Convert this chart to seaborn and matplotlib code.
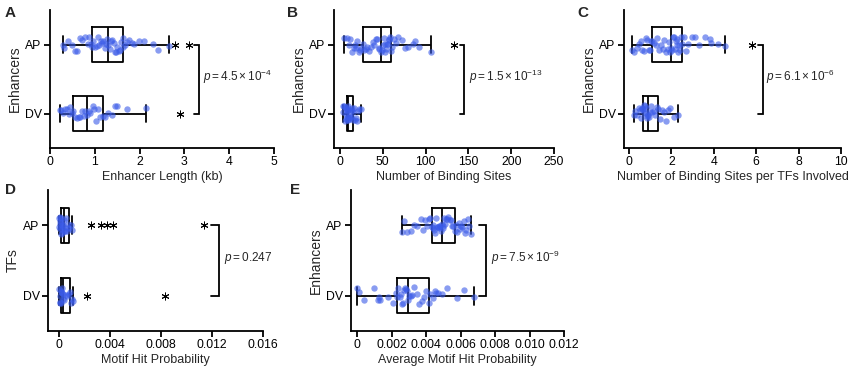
import numpy as np
import pandas as pd
import matplotlib
matplotlib.use("Agg")
import matplotlib.pyplot as plt
import seaborn as sns

np.random.seed(3)

sns.set_style("ticks")
plt.rcParams['font.family'] = ['Liberation Sans', 'DejaVu Sans']
plt.rcParams['mathtext.fontset'] = 'custom'
plt.rcParams['mathtext.rm'] = 'Liberation Sans'
plt.rcParams['mathtext.it'] = 'Liberation Sans:italic'

categories = ["AP", "DV"]

# ---- Panel A: Enhancer length (kb)
a_ap_in = [0.30, 0.32, 0.40, 0.48, 0.55, 0.60, 0.66, 0.72, 0.78, 0.84, 0.88, 0.91, 0.93,
           0.97, 1.00, 1.04, 1.07, 1.10, 1.13, 1.16, 1.19, 1.22, 1.25, 1.28, 1.30,
           1.33, 1.36, 1.39, 1.42, 1.45, 1.48, 1.50, 1.53, 1.56, 1.59, 1.62, 1.64,
           1.68, 1.72, 1.77, 1.82, 1.88, 1.98, 2.10, 2.30, 2.42, 2.66]
a_ap_out = [2.79, 3.11]
a_dv_in = [0.22, 0.25, 0.30, 0.34, 0.38, 0.42, 0.45, 0.48, 0.51,
           0.55, 0.60, 0.64, 0.68, 0.72, 0.75, 0.79, 0.82,
           0.86, 0.90, 0.95, 0.99, 1.03, 1.08, 1.12, 1.18,
           1.22, 1.30, 1.38, 1.45, 1.50, 1.72, 2.15]
a_dv_out = [2.90]

# ---- Panel B: Number of binding sites
b_ap_in = [5, 8, 10, 12, 14, 16, 18, 19, 20, 22, 23, 25, 26.4,
           28, 30, 32, 34, 36, 38, 40, 42, 43, 45, 46, 47.9,
           49, 50, 51, 52, 53, 54, 55, 56, 57, 57.5, 58, 59.2,
           61, 63, 65, 68, 72, 76, 80, 85, 88, 92, 106]
b_ap_out = [133]
b_dv_in = [3.1, 4, 5, 5.5, 6, 6.5, 7, 7.4, 7.8,
           8.1, 8.4, 8.7, 9.0, 9.2, 9.4, 9.6, 9.8,
           10.3, 11, 11.7, 12.4, 13, 13.6, 14.2, 14.8,
           15.5, 16.5, 17.5, 18.5, 19.5, 21, 22.5, 24.2]
b_dv_out = []

# ---- Panel C: Binding sites per TF involved
c_ap_in = [0.16, 0.25, 0.35, 0.45, 0.55, 0.62, 0.70, 0.78, 0.85, 0.92, 0.98, 1.04, 1.10,
           1.18, 1.26, 1.34, 1.42, 1.50, 1.58, 1.66, 1.74, 1.82, 1.88, 1.93, 1.98,
           2.03, 2.08, 2.12, 2.16, 2.20, 2.24, 2.28, 2.32, 2.36, 2.40, 2.45, 2.50,
           2.58, 2.68, 2.80, 2.95, 3.10, 3.30, 3.60, 3.80, 3.85, 4.20, 4.54]
c_ap_out = [5.79]
c_dv_in = [0.24, 0.30, 0.38, 0.45, 0.50, 0.55, 0.59, 0.63, 0.66,
           0.69, 0.72, 0.75, 0.78, 0.81, 0.83, 0.86, 0.88,
           0.92, 0.98, 1.04, 1.10, 1.17, 1.24, 1.31, 1.38,
           1.45, 1.55, 1.65, 1.75, 1.85, 1.95, 2.10, 2.33]
c_dv_out = []

# ---- Panel D: Motif hit probability (TFs)
d_ap_in = [0.00000, 0.00002, 0.00004, 0.00006, 0.00008, 0.00010, 0.00012, 0.00013,
           0.00016, 0.00019, 0.00022, 0.00025, 0.00028, 0.00031, 0.00035,
           0.00040, 0.00046, 0.00052, 0.00058, 0.00064, 0.00072, 0.00080,
           0.00090, 0.00100]
d_ap_out = [0.00246, 0.00332, 0.00376, 0.00424, 0.01137]
d_dv_in = [0.00000, 0.00003, 0.00006, 0.00009, 0.00011, 0.00013,
           0.00017, 0.00021, 0.00024, 0.00027, 0.00030,
           0.00040, 0.00052, 0.00064, 0.00075, 0.00086,
           0.00092, 0.00098, 0.00105]
d_dv_out = [0.00215, 0.00834]

# ---- Panel E: Average motif hit probability
e_ap_in = [0.00259, 0.00275, 0.00290, 0.00310, 0.00330, 0.00350, 0.00370, 0.00385, 0.00395,
           0.00405, 0.00415, 0.00425, 0.00433,
           0.00438, 0.00443, 0.00448, 0.00453, 0.00458, 0.00463, 0.00468, 0.00473, 0.00478,
           0.00483, 0.00487, 0.00491,
           0.00496, 0.00501, 0.00506, 0.00512, 0.00518, 0.00524, 0.00530, 0.00537, 0.00544,
           0.00551, 0.00559, 0.00568,
           0.00575, 0.00582, 0.00589, 0.00596, 0.00603, 0.00610, 0.00618, 0.00626, 0.00634,
           0.00642, 0.00650, 0.00660]
e_ap_out = []
e_dv_in = [0.00000, 0.00010, 0.00040, 0.00100, 0.00120, 0.00130, 0.00135, 0.00180, 0.00210,
           0.00225, 0.00231,
           0.00240, 0.00248, 0.00255, 0.00262, 0.00268, 0.00274, 0.00280, 0.00284, 0.00288,
           0.00293,
           0.00300, 0.00310, 0.00320, 0.00330, 0.00345, 0.00360, 0.00375, 0.00390, 0.00402,
           0.00415,
           0.00425, 0.00440, 0.00450, 0.00460, 0.00470, 0.00490, 0.00520, 0.00580, 0.00620,
           0.00680]
e_dv_out = []

# tick labels
a_ticks = [0, 1, 2, 3, 4, 5]
b_ticks = [0, 50, 100, 150, 200, 250]
c_ticks = [0, 2, 4, 6, 8, 10]
d_ticks = [0, 0.004, 0.008, 0.012, 0.016]
d_ticklabels = ["0", "0.004", "0.008", "0.012", "0.016"]
e_ticks = [0, 0.002, 0.004, 0.006, 0.008, 0.010, 0.012]
e_ticklabels = ["0", "0.002", "0.004", "0.006", "0.008", "0.010", "0.012"]

p_texts = [r"$p = 4.5\times10^{-4}$", r"$p = 1.5\times10^{-13}$", r"$p = 6.1\times10^{-6}$",
           r"$p = 0.247$", r"$p = 7.5\times10^{-9}$"]

W, H = 856, 368
fig = plt.figure(figsize=(W / 100, H / 100), dpi=100)


def add_ax(x0, y0, x1, y1):
    return fig.add_axes([x0 / W, 1 - y1 / H, (x1 - x0) / W, (y1 - y0) / H])


panels = [
    dict(ax=add_ax(50, 10, 274, 148), ap_in=a_ap_in, ap_out=a_ap_out, dv_in=a_dv_in, dv_out=a_dv_out,
         xlim=(0, 5), ticks=a_ticks, ticklabels=[str(t) for t in a_ticks],
         xlabel="Enhancer Length (kb)", ylabel="Enhancers", br=(3.22, 3.33, 3.41), letter="A",
         lpos=(5, 13)),
    dict(ax=add_ax(334, 10, 554, 148), ap_in=b_ap_in, ap_out=b_ap_out, dv_in=b_dv_in, dv_out=b_dv_out,
         xlim=(-7, 250), ticks=b_ticks, ticklabels=[str(t) for t in b_ticks],
         xlabel="Number of Binding Sites", ylabel="Enhancers", br=(140, 145, 151), letter="B",
         lpos=(287, 13)),
    dict(ax=add_ax(624, 10, 841, 148), ap_in=c_ap_in, ap_out=c_ap_out, dv_in=c_dv_in, dv_out=c_dv_out,
         xlim=(-0.24, 10), ticks=c_ticks, ticklabels=[str(t) for t in c_ticks],
         xlabel="Number of Binding Sites per TFs Involved", ylabel="Enhancers", br=(6.07, 6.31, 6.46),
         letter="C", lpos=(577, 13)),
    dict(ax=add_ax(48, 190, 263, 331), ap_in=d_ap_in, ap_out=d_ap_out, dv_in=d_dv_in, dv_out=d_dv_out,
         xlim=(-0.00088, 0.016), ticks=d_ticks, ticklabels=d_ticklabels,
         xlabel="Motif Hit Probability", ylabel="TFs", br=(0.0119, 0.01252, 0.0129), letter="D",
         lpos=(5, 190)),
    dict(ax=add_ax(351, 190, 564, 331), ap_in=e_ap_in, ap_out=e_ap_out, dv_in=e_dv_in, dv_out=e_dv_out,
         xlim=(-0.00035, 0.012), ticks=e_ticks, ticklabels=e_ticklabels,
         xlabel="Average Motif Hit Probability", ylabel="Enhancers", br=(0.00705, 0.0075, 0.00776),
         letter="E", lpos=(290, 190)),
]

dot_color = "#3B5BE8"
lw = 1.3

for i, p in enumerate(panels):
    ax = p["ax"]
    box_df = pd.DataFrame({
        "value": p["ap_in"] + p["ap_out"] + p["dv_in"] + p["dv_out"],
        "group": ["AP"] * (len(p["ap_in"]) + len(p["ap_out"])) + ["DV"] * (len(p["dv_in"]) + len(p["dv_out"])),
    })
    strip_df = pd.DataFrame({
        "value": p["ap_in"] + p["dv_in"],
        "group": ["AP"] * len(p["ap_in"]) + ["DV"] * len(p["dv_in"]),
    })
    sns.boxplot(data=box_df, x="value", y="group", order=categories, orient="h", ax=ax,
                width=0.5, whis=1.5, fill=False, color="black", linewidth=lw,
                flierprops=dict(marker=(6, 2, 0), markersize=5.5, markeredgecolor="black",
                                markerfacecolor="black", markeredgewidth=0.7))
    sns.stripplot(data=strip_df, x="value", y="group", order=categories, orient="h", ax=ax,
                  color=dot_color, alpha=0.6, size=4.6, jitter=0.12, linewidth=0, zorder=3)
    x0, x1, xt = p["br"]
    ax.plot([x0, x1, x1, x0], [0, 0, 1, 1], color="black", lw=lw, clip_on=False,
            solid_joinstyle="miter")
    ax.text(xt, 0.47, p_texts[i], fontsize=8.5, va="center", ha="left")
    ax.set_xlim(*p["xlim"])
    ax.set_ylim(1.5, -0.5)
    ax.set_xticks(p["ticks"])
    ax.set_xticklabels(p["ticklabels"])
    ax.set_xlabel(p["xlabel"], fontsize=9, labelpad=2)
    ax.set_ylabel(p["ylabel"], fontsize=10, labelpad=2)
    ax.tick_params(axis="both", direction="out", length=4, width=lw, labelsize=8.8, pad=2,
                   color="black", labelcolor="black")
    for s in ["left", "bottom"]:
        ax.spines[s].set_linewidth(lw)
        ax.spines[s].set_color("black")
    sns.despine(ax=ax)
    ax.set_facecolor("none")
    fig.text(p["lpos"][0] / W, 1 - p["lpos"][1] / H, p["letter"], fontsize=11, fontweight="bold",
             va="center", ha="left")

fig.savefig("out.png", dpi=100)
